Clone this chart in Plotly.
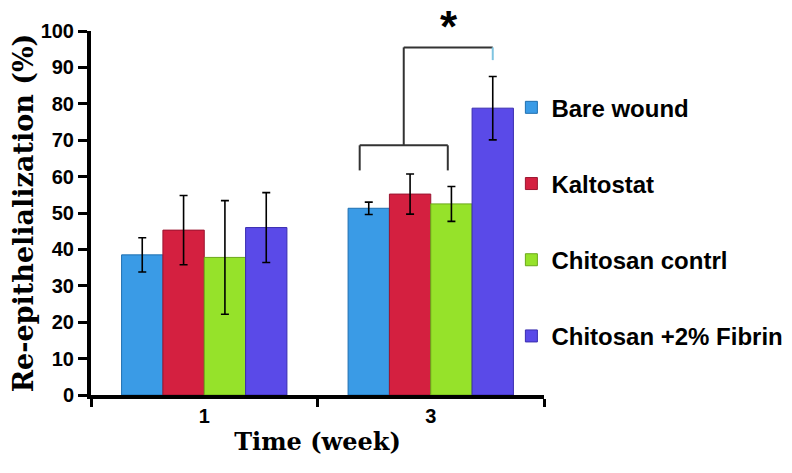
import plotly.graph_objects as go

weeks = ["1", "3"]
series = ["Bare wound", "Kaltostat", "Chitosan contrl", "Chitosan +2% Fibrin"]
colors = ["#3A9BE6", "#D42040", "#96E22A", "#5A4AE8"]
edges = ["#1F6FB0", "#9A1530", "#6BA81A", "#3A2DB0"]
means = {
    "Bare wound": [38.5, 51.3],
    "Kaltostat": [45.3, 55.2],
    "Chitosan contrl": [37.8, 52.5],
    "Chitosan +2% Fibrin": [46.0, 78.8],
}
errs = {
    "Bare wound": [4.7, 1.7],
    "Kaltostat": [9.5, 5.5],
    "Chitosan contrl": [15.6, 4.8],
    "Chitosan +2% Fibrin": [9.6, 8.7],
}
y_ticks = list(range(0, 101, 10))

fig = go.Figure()
for i, s in enumerate(series):
    fig.add_trace(go.Bar(
        x=weeks, y=means[s], name=s, legendgroup=s,
        marker=dict(color=colors[i], line=dict(color=edges[i], width=1)),
        error_y=dict(type="data", array=errs[s], color="black", thickness=1.6, width=4),
    ))

# significance brackets (category 1 = week 3; bar slot width 0.73/4)
slot = 0.73 / 4
c = 1
lo_left = c - 1.5 * slot - 0.04
lo_right = c + 0.5 * slot - 0.016
stem = (lo_left + lo_right) / 2
hi_right = c + 1.5 * slot
lc = "#333333"
fig.add_shape(type="line", x0=lo_left, x1=lo_left, y0=61.7, y1=68.6, line=dict(color=lc, width=2))
fig.add_shape(type="line", x0=lo_left, x1=lo_right, y0=68.6, y1=68.6, line=dict(color=lc, width=2))
fig.add_shape(type="line", x0=lo_right, x1=lo_right, y0=61.7, y1=68.6, line=dict(color=lc, width=2))
fig.add_shape(type="line", x0=stem, x1=stem, y0=68.6, y1=95.5, line=dict(color=lc, width=2))
fig.add_shape(type="line", x0=stem, x1=hi_right, y0=95.5, y1=95.5, line=dict(color=lc, width=2))
fig.add_shape(type="line", x0=hi_right, x1=hi_right, y0=92, y1=95.5, line=dict(color="#7fc4e0", width=2))
fig.add_annotation(x=c + 0.5 * slot - 0.01, y=1.085, xref="x", yref="paper", yanchor="top",
                   text="<b>*</b>", showarrow=False,
                   font=dict(family="Liberation Sans", size=44, color="black"))

fig.update_layout(
    width=792, height=473,
    margin=dict(l=80, r=255, t=13, b=86),
    paper_bgcolor="white", plot_bgcolor="white",
    barmode="group", bargap=0.27, bargroupgap=0,
    showlegend=True,
    legend=dict(x=0.928, y=0.851, xanchor="left", yanchor="top",
                font=dict(family="Liberation Sans", size=24, color="black", weight="bold"),
                tracegroupgap=42, bgcolor="rgba(0,0,0,0)"),
    font=dict(family="Liberation Sans", color="black"),
)
fig.update_xaxes(
    type="category", showline=True, linecolor="black", linewidth=4,
    ticks="outside", tickson="boundaries", ticklen=8, tickwidth=3, tickcolor="black",
    tickfont=dict(family="Liberation Sans", size=20, weight="bold"),
    title=dict(text="<b>Time (week)</b>", font=dict(family="DejaVu Serif", size=24), standoff=8),
    showgrid=False, zeroline=False,
)
fig.update_yaxes(
    range=[0, 100], tickvals=y_ticks, showline=True, linecolor="black", linewidth=4,
    ticks="outside", ticklen=9, tickwidth=3, tickcolor="black",
    tickfont=dict(family="Liberation Sans", size=20, weight="bold"),
    title=dict(text="<b>Re-epithelialization (%)</b>", font=dict(family="DejaVu Serif", size=27), standoff=2),
    showgrid=False, zeroline=False,
)

fig.write_html("out.html")
